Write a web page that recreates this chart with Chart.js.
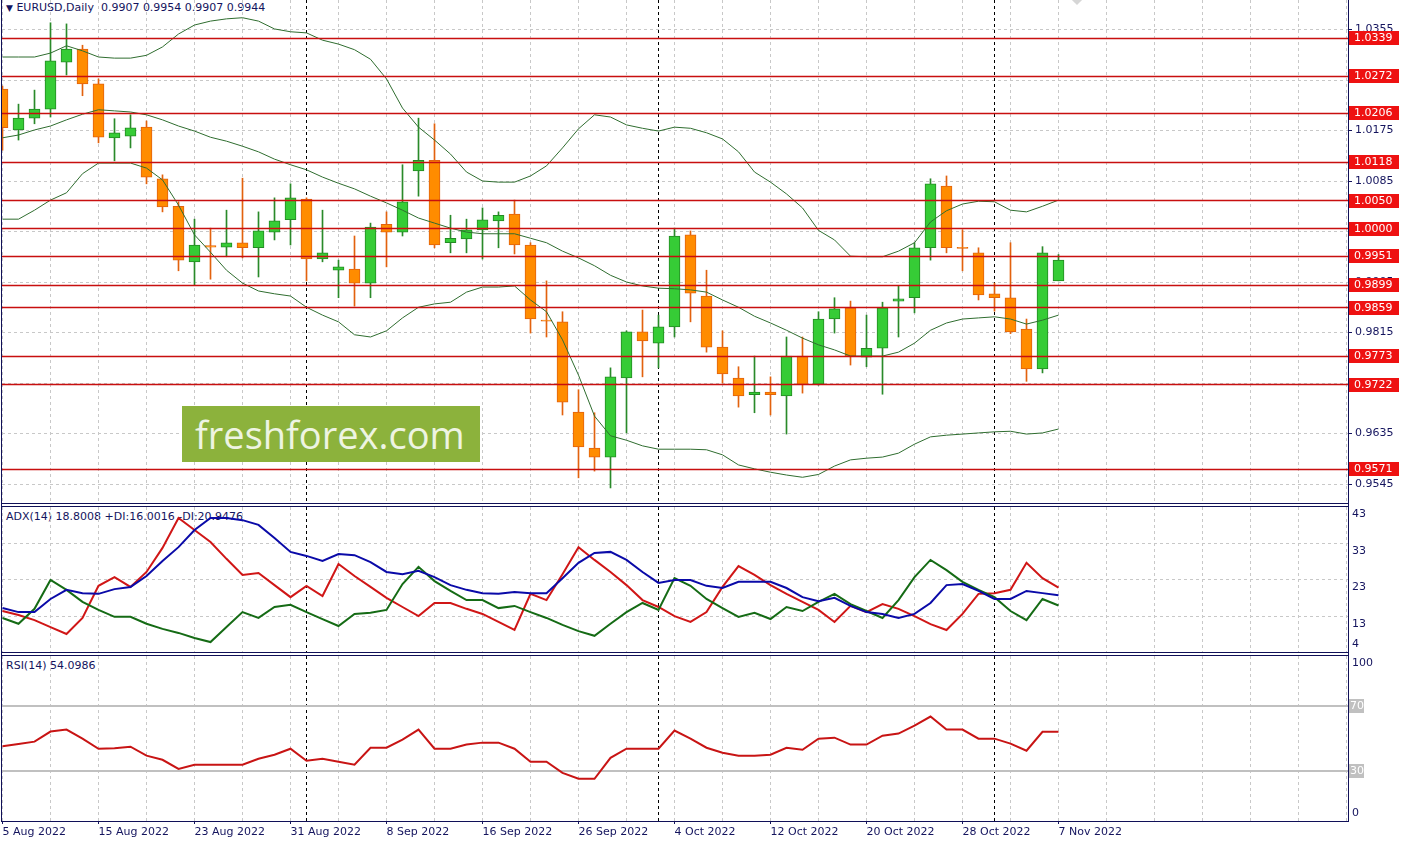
<!DOCTYPE html>
<html>
<head>
<meta charset="utf-8">
<title>EURUSD Daily</title>
<script src="https://cdn.jsdelivr.net/npm/chart.js@4/dist/chart.umd.min.js"></script>
<style>
  html, body { margin: 0; padding: 0; background: #fff; }
  body { position: relative; width: 1407px; height: 844px; overflow: hidden; font-family: 'DejaVu Sans', sans-serif; }
  canvas { position: absolute; left: 0; z-index: 2; }
  .cap { position: absolute; left: 6px; font-size: 11px; line-height: 13px; color: #14145e; white-space: pre; z-index: 1; }
  .hl { position: absolute; left: 1px; width: 1348px; height: 1px; background: #101058; z-index: 3; }
  .vl { position: absolute; top: 0; width: 1px; height: 822px; background: #101058; z-index: 3; }
  #wm { position: absolute; left: 182px; top: 406px; width: 298px; height: 56px; background: #8cb23c; z-index: 3;
        color: #eef4e2; font-family: 'Open Sans', sans-serif; font-size: 38px; line-height: 56px; padding-left: 13px; box-sizing: border-box; }
  #mark { position: absolute; left: 1072px; top: -7px; width: 10px; height: 10px; background: #d6d6d6; transform: rotate(45deg); z-index: 3; }
</style>
</head>
<body>
<div class="cap" style="top:1px"><span style="font-size:9px">▼</span> EURUSD,Daily  0.9907 0.9954 0.9907 0.9944</div>
<div class="cap" style="top:510px">ADX(14) 18.8008 +DI:16.0016 -DI:20.9476</div>
<div class="cap" style="top:659px">RSI(14) 54.0986</div>

<canvas id="mainChart" width="1407" height="503" style="top:0"></canvas>
<canvas id="adxChart" width="1407" height="145" style="top:507px"></canvas>
<canvas id="rsiChart" width="1407" height="188" style="top:656px"></canvas>

<div class="vl" style="left:1px"></div>
<div class="vl" style="left:1348px"></div>
<div class="hl" style="top:503px"></div>
<div class="hl" style="top:506px"></div>
<div class="hl" style="top:652px"></div>
<div class="hl" style="top:655px"></div>
<div class="hl" style="top:821px"></div>
<div id="wm">freshforex.com</div>
<div id="mark"></div>

<script>
// EURUSD daily candles, 5 Aug 2022 .. 7 Nov 2022
const opens  = [1.0249,1.0176,1.0197,1.0213,1.0297,1.0320,1.0258,1.0162,1.0165,1.0181,1.0089,1.0040,0.9941,0.9970,0.9967,0.9975,0.9966,0.9994,1.0016,1.0053,0.9946,0.9926,0.9928,0.9903,1.0008,0.9994,1.0103,1.0122,0.9975,0.9982,0.9998,1.0014,1.0026,0.9971,0.9837,0.9834,0.9673,0.9609,0.9593,0.9734,0.9816,0.9796,0.9825,0.9989,0.9880,0.9789,0.9734,0.9704,0.9709,0.9702,0.9773,0.9723,0.9839,0.9859,0.9771,0.9787,0.9871,0.9877,0.9966,1.0076,0.9967,0.9957,0.9884,0.9877,0.9821,0.9750,0.9907];
const highs  = [1.0254,1.0222,1.0247,1.0367,1.0365,1.0327,1.0267,1.0196,1.0203,1.0192,1.0096,1.0048,1.0017,1.0001,1.0033,1.0090,1.0030,1.0055,1.0080,1.0055,1.0033,0.9944,0.9987,1.0010,1.0030,1.0114,1.0197,1.0187,1.0024,1.0017,1.0037,1.0030,1.0051,0.9975,0.9907,0.9852,0.9713,0.9672,0.9752,0.9818,0.9855,0.9846,1.0001,0.9996,0.9926,0.9818,0.9754,0.9773,0.9736,0.9807,0.9807,0.9852,0.9877,0.9871,0.9846,0.9869,0.9898,0.9975,1.0089,1.0094,0.9998,0.9966,0.9903,0.9975,0.9839,0.9968,0.9954];
const lows   = [1.0140,1.0158,1.0187,1.0199,1.0274,1.0237,1.0153,1.0121,1.0144,1.0080,1.0030,0.9925,0.9900,0.9910,0.9950,0.9948,0.9914,0.9980,0.9971,0.9907,0.9941,0.9877,0.9862,0.9877,0.9932,0.9987,1.0058,0.9966,0.9957,0.9957,0.9946,0.9966,0.9955,0.9814,0.9807,0.9668,0.9556,0.9568,0.9538,0.9636,0.9736,0.9752,0.9807,0.9834,0.9780,0.9725,0.9682,0.9672,0.9668,0.9634,0.9707,0.9721,0.9814,0.9757,0.9754,0.9705,0.9807,0.9850,0.9944,0.9957,0.9925,0.9873,0.9853,0.9813,0.9728,0.9743,0.9907];
const closes = [1.0180,1.0197,1.0213,1.0299,1.0320,1.0258,1.0163,1.0171,1.0180,1.0092,1.0039,0.9944,0.9971,0.9967,0.9975,0.9966,0.9996,1.0014,1.0055,0.9946,0.9957,0.9932,0.9903,1.0003,0.9994,1.0048,1.0122,0.9971,0.9983,0.9998,1.0016,1.0024,0.9971,0.9839,0.9835,0.9691,0.9611,0.9593,0.9736,0.9816,0.9800,0.9825,0.9987,0.9885,0.9789,0.9741,0.9702,0.9709,0.9704,0.9773,0.9723,0.9839,0.9857,0.9773,0.9787,0.9859,0.9875,0.9966,1.0080,0.9966,0.9965,0.9882,0.9877,0.9816,0.9750,0.9957,0.9944];

// Bollinger bands (20)
const bbUpper = [1.0306,1.0306,1.0306,1.0313,1.0326,1.0317,1.0306,1.0304,1.0304,1.0309,1.0324,1.0347,1.0363,1.0370,1.0374,1.0376,1.0370,1.0356,1.0351,1.0349,1.0336,1.0329,1.0319,1.0302,1.0267,1.0215,1.0181,1.0158,1.0133,1.0101,1.0085,1.0083,1.0083,1.0094,1.0112,1.0144,1.0178,1.0203,1.0199,1.0185,1.0179,1.0174,1.0181,1.0179,1.0171,1.0160,1.0137,1.0101,1.0083,1.0062,1.0037,0.9997,0.9980,0.9951,0.9950,0.9950,0.9960,0.9975,1.0012,1.0032,1.0044,1.0049,1.0048,1.0033,1.0030,1.0040,1.0051];
const bbMid   = [1.0162,1.0167,1.0176,1.0183,1.0194,1.0204,1.0212,1.0210,1.0208,1.0203,1.0194,1.0183,1.0174,1.0163,1.0156,1.0147,1.0137,1.0124,1.0114,1.0105,1.0092,1.0081,1.0071,1.0058,1.0046,1.0033,1.0019,1.0010,1.0001,0.9994,0.9991,0.9991,0.9991,0.9983,0.9975,0.9960,0.9948,0.9934,0.9917,0.9905,0.9898,0.9894,0.9893,0.9891,0.9887,0.9873,0.9860,0.9844,0.9832,0.9819,0.9805,0.9793,0.9784,0.9773,0.9773,0.9773,0.9780,0.9796,0.9819,0.9832,0.9839,0.9841,0.9843,0.9839,0.9830,0.9837,0.9846];
const bbLower = [1.0017,1.0017,1.0033,1.0051,1.0064,1.0098,1.0117,1.0117,1.0117,1.0108,1.0087,1.0042,0.9989,0.9958,0.9926,0.9903,0.9889,0.9884,0.9880,0.9860,0.9846,0.9834,0.9811,0.9807,0.9818,0.9841,0.9860,0.9866,0.9869,0.9887,0.9896,0.9896,0.9898,0.9873,0.9852,0.9802,0.9739,0.9666,0.9631,0.9623,0.9613,0.9607,0.9607,0.9607,0.9606,0.9597,0.9579,0.9572,0.9566,0.9561,0.9557,0.9562,0.9577,0.9588,0.9591,0.9593,0.9600,0.9616,0.9629,0.9632,0.9634,0.9636,0.9638,0.9639,0.9634,0.9636,0.9643];

// ADX(14)
const adxMain  = [15.3,14.2,14.2,17.8,20.3,19.4,19.2,20.5,21.1,24.1,28.2,32.0,36.7,40.0,40.0,39.4,38.1,34.5,30.7,29.6,28.2,30.1,29.8,27.9,25.2,24.6,25.5,23.8,21.6,20.3,19.4,19.2,19.7,19.4,19.4,23.5,27.7,30.4,30.7,28.5,25.2,22.2,23.0,23.0,21.4,20.8,22.5,22.5,22.5,20.8,18.3,17.2,18.1,15.9,14.2,13.7,12.6,13.7,16.7,21.6,21.9,20.0,17.8,17.8,20.0,19.4,18.8];
const plusDI   = [12.6,11.0,15.1,23.0,20.3,17.0,14.8,12.9,12.9,11.0,9.6,8.5,7.1,6.0,10.1,14.2,12.6,15.6,16.2,14.2,12.3,10.4,13.7,14.0,14.8,21.9,26.6,22.7,20.0,17.5,17.5,15.3,15.9,14.2,12.6,10.7,9.0,7.7,11.0,14.2,16.7,14.8,23.5,21.4,17.8,15.3,12.9,14.0,12.3,15.6,14.5,17.0,19.2,16.4,14.5,12.6,17.5,23.8,28.5,25.7,22.5,20.3,18.3,14.5,12.0,17.8,16.0];
const minusDI  = [14.5,13.4,12.0,10.1,8.2,12.6,21.4,23.8,21.1,25.2,31.8,40.0,36.7,33.4,28.8,24.4,24.9,21.6,18.3,21.4,18.6,27.4,24.1,21.1,18.1,15.6,13.1,16.7,16.7,15.1,13.7,11.5,9.3,19.2,17.5,24.6,32.0,28.5,25.2,21.6,17.5,15.6,13.1,11.5,14.2,21.1,26.8,24.4,21.6,19.2,17.0,14.8,11.5,15.9,14.2,16.4,15.1,13.1,10.9,9.3,13.7,19.2,19.4,20.3,27.7,23.5,20.9];

// RSI(14)
const rsi = [45.3,46.6,48.1,54.2,55.4,49.9,43.8,44.1,45.0,39.6,37.1,31.6,34.1,34.1,34.1,34.1,37.7,40.2,43.8,36.5,37.7,35.9,34.1,44.4,44.4,49.3,55.4,43.8,43.8,46.3,47.5,47.5,43.8,35.9,35.9,29.2,25.6,25.6,38.3,43.8,43.8,43.8,54.8,49.9,44.4,41.4,39.6,39.6,40.2,44.4,43.2,49.9,50.5,46.3,46.3,51.7,53.0,57.8,63.3,55.4,55.4,49.9,49.9,46.9,42.6,54.1,54.1];

const dateIdx    = [0, 6, 12, 18, 24, 30, 36, 42, 48, 54, 60, 66];
const dateLabels = ['5 Aug 2022','15 Aug 2022','23 Aug 2022','31 Aug 2022','8 Sep 2022','16 Sep 2022','26 Sep 2022','4 Oct 2022','12 Oct 2022','20 Oct 2022','28 Oct 2022','7 Nov 2022'];
const separators = [19, 41, 62]; // 1 Sep, 3 Oct, 1 Nov
const priceTicks = [1.0355,1.0265,1.0175,1.0085,0.9995,0.9905,0.9815,0.9725,0.9635,0.9545];
const levels     = [1.0339,1.0272,1.0206,1.0118,1.0050,1.0000,0.9951,0.9899,0.9859,0.9773,0.9722,0.9571];
const adxTicks   = [43, 33, 23, 13, 4];
const rsiTicks   = [100, 0];
const rsiLevels  = [70, 30];

const NAVY = '#14145e';
const GRID = '#c8c8c8';
const FONT = 'DejaVu Sans';
const X_MIN = -0.03125, X_MAX = 84.09375;

const gridIdx = [];
for (let i = 0; i <= 84; i += 3) gridIdx.push(i);
const idx = closes.map((_, i) => i);
const isUp = i => closes[i] >= opens[i];

function xScale(showLabels) {
    return {
        type: 'linear', min: X_MIN, max: X_MAX, offset: false,
        grid: {
            offset: false, color: GRID, drawTicks: showLabels, tickLength: 3, tickBorderDash: [],
            tickColor: c => (c.tick && dateIdx.includes(c.tick.value)) ? NAVY : 'rgba(0,0,0,0)'
        },
        border: { display: false, dash: [3, 3] },
        ticks: {
            display: showLabels, autoSkip: false, maxRotation: 0, minRotation: 0, align: 'start', padding: 2,
            color: NAVY, font: { family: FONT, size: 11 },
            callback: v => { const k = dateIdx.indexOf(v); return k >= 0 ? dateLabels[k] : ''; }
        },
        afterBuildTicks: s => { s.ticks = gridIdx.map(v => ({ value: v })); },
        afterFit: s => { s.height = showLabels ? 23 : 0; s.paddingLeft = 0; s.paddingRight = 0; }
    };
}

function fitRight(s) {
    s.width = 59; s.paddingTop = 0; s.paddingBottom = 0;
}

// month separators, dashed black, under the marks
const separatorPlugin = {
    id: 'separators',
    beforeDatasetsDraw(chart) {
        const { ctx, chartArea, scales } = chart;
        ctx.save();
        ctx.strokeStyle = '#000'; ctx.lineWidth = 1; ctx.setLineDash([3, 3]);
        separators.forEach(i => {
            const x = Math.floor(scales.x.getPixelForValue(i)) + 0.5;
            ctx.beginPath(); ctx.moveTo(x, chartArea.top); ctx.lineTo(x, chartArea.bottom); ctx.stroke();
        });
        ctx.restore();
    }
};

// horizontal levels (red lines + price boxes on the axis)
const levelPlugin = {
    id: 'levels',
    afterDatasetsDraw(chart) {
        const { ctx, chartArea, scales } = chart;
        ctx.save();
        ctx.strokeStyle = '#c80f0f'; ctx.lineWidth = 1.4;
        levels.forEach(v => {
            const y = Math.floor(scales.y.getPixelForValue(v)) + 0.5;
            ctx.beginPath(); ctx.moveTo(chartArea.left, y); ctx.lineTo(chartArea.right, y); ctx.stroke();
        });
        ctx.restore();
    },
    afterDraw(chart) {
        const { ctx, chartArea, scales } = chart;
        ctx.save();
        ctx.font = '11px "' + FONT + '"'; ctx.textBaseline = 'middle'; ctx.textAlign = 'left';
        levels.forEach(v => {
            const y = Math.round(scales.y.getPixelForValue(v));
            ctx.fillStyle = '#ee1111';
            ctx.fillRect(chartArea.right + 1, y - 7, 50, 14);
            ctx.fillStyle = '#fff';
            ctx.fillText(v.toFixed(4), chartArea.right + 6, y + 0.5);
        });
        ctx.restore();
    }
};

function sideLabels(values) {
    return {
        id: 'sideLabels',
        afterDraw(chart) {
            const { ctx, chartArea, scales } = chart;
            ctx.save();
            ctx.fillStyle = NAVY; ctx.font = '11px "' + FONT + '"'; ctx.textBaseline = 'top'; ctx.textAlign = 'left';
            values.forEach(v => {
                const y = Math.min(scales.y.getPixelForValue(v) + 2, chartArea.bottom - 13);
                ctx.fillText(String(v), chartArea.right + 4, y);
            });
            ctx.restore();
        }
    };
}

const rsiLevelPlugin = {
    id: 'rsiLevels',
    beforeDatasetsDraw(chart) {
        const { ctx, chartArea, scales } = chart;
        ctx.save();
        ctx.strokeStyle = '#c0c0c0'; ctx.lineWidth = 2;
        rsiLevels.forEach(v => {
            const y = Math.round(scales.y.getPixelForValue(v));
            ctx.beginPath(); ctx.moveTo(chartArea.left, y); ctx.lineTo(chartArea.right, y); ctx.stroke();
        });
        ctx.restore();
    },
    afterDraw(chart) {
        const { ctx, chartArea, scales } = chart;
        ctx.save();
        ctx.font = '11px "' + FONT + '"'; ctx.textBaseline = 'middle'; ctx.textAlign = 'left';
        rsiLevels.forEach(v => {
            const y = Math.round(scales.y.getPixelForValue(v));
            ctx.fillStyle = '#c0c0c0';
            ctx.fillRect(chartArea.right + 1, y - 7, 15, 14);
            ctx.fillStyle = '#fff';
            ctx.fillText(String(v), chartArea.right + 2, y + 0.5);
        });
        ctx.restore();
    }
};

const base = {
    responsive: false, animation: false, devicePixelRatio: 1,
    layout: { padding: { left: 2, top: 0, right: 0, bottom: 0 } },
    plugins: { legend: { display: false }, tooltip: { enabled: false } },
    elements: { point: { radius: 0 }, line: { tension: 0 } }
};

function line(values, color, width, order) {
    return {
        type: 'line', data: idx.map(i => ({ x: i, y: values[i] })),
        borderColor: color, borderWidth: width, pointRadius: 0, fill: false, order: order
    };
}

// --- price panel ---
new Chart(document.getElementById('mainChart'), {
    type: 'bar',
    data: {
        datasets: [
            {
                label: 'wick', data: idx.map(i => ({ x: i, y: [lows[i], highs[i]] })),
                backgroundColor: idx.map(i => isUp(i) ? '#2a8a2a' : '#e2620e'),
                barThickness: 1, grouped: false, order: 5
            },
            {
                label: 'body', data: idx.map(i => ({ x: i, y: [opens[i], closes[i]] })),
                backgroundColor: idx.map(i => isUp(i) ? '#36cc36' : '#ff8c00'),
                borderColor: idx.map(i => isUp(i) ? '#238a23' : '#e2620e'),
                borderWidth: 1, borderSkipped: false, barThickness: 11, grouped: false, order: 4
            },
            line(bbUpper, '#2f6d2f', 1, 3),
            line(bbMid, '#2f6d2f', 1, 3),
            line(bbLower, '#2f6d2f', 1, 3)
        ]
    },
    options: Object.assign({}, base, {
        scales: {
            x: xScale(false),
            y: {
                position: 'right', min: 0.951115, max: 1.04076, beginAtZero: false,
                grid: { color: GRID, tickLength: 4, tickColor: NAVY, tickBorderDash: [], tickWidth: 1 },
                border: { display: false, dash: [3, 3] },
                ticks: { color: NAVY, font: { family: FONT, size: 11 }, padding: 3, autoSkip: false, callback: v => v.toFixed(4) },
                afterBuildTicks: s => { s.ticks = priceTicks.map(v => ({ value: v })); },
                afterFit: fitRight
            }
        }
    }),
    plugins: [separatorPlugin, levelPlugin]
});

// --- ADX panel ---
new Chart(document.getElementById('adxChart'), {
    type: 'line',
    data: {
        datasets: [
            line(adxMain, '#0a0aa8', 2, 1),
            line(plusDI, '#156b15', 2, 2),
            line(minusDI, '#d01616', 2, 3)
        ]
    },
    options: Object.assign({}, base, {
        scales: {
            x: xScale(false),
            y: {
                position: 'right', min: 3.27, max: 43.0,
                grid: { color: c => (c.tick && [33, 23, 13].includes(c.tick.value)) ? GRID : 'rgba(0,0,0,0)', drawTicks: false },
                border: { display: false, dash: [3, 3] },
                ticks: { display: false },
                afterBuildTicks: s => { s.ticks = adxTicks.map(v => ({ value: v })); },
                afterFit: fitRight
            }
        }
    }),
    plugins: [separatorPlugin, sideLabels(adxTicks)]
});

// --- RSI panel ---
new Chart(document.getElementById('rsiChart'), {
    type: 'line',
    data: { datasets: [line(rsi, '#c81414', 2, 1)] },
    options: Object.assign({}, base, {
        scales: {
            x: xScale(true),
            y: {
                position: 'right', min: 0, max: 100,
                grid: { display: false },
                border: { display: false },
                ticks: { display: false },
                afterBuildTicks: s => { s.ticks = rsiTicks.map(v => ({ value: v })); },
                afterFit: fitRight
            }
        }
    }),
    plugins: [separatorPlugin, rsiLevelPlugin, sideLabels(rsiTicks)]
});
</script>
</body>
</html>
